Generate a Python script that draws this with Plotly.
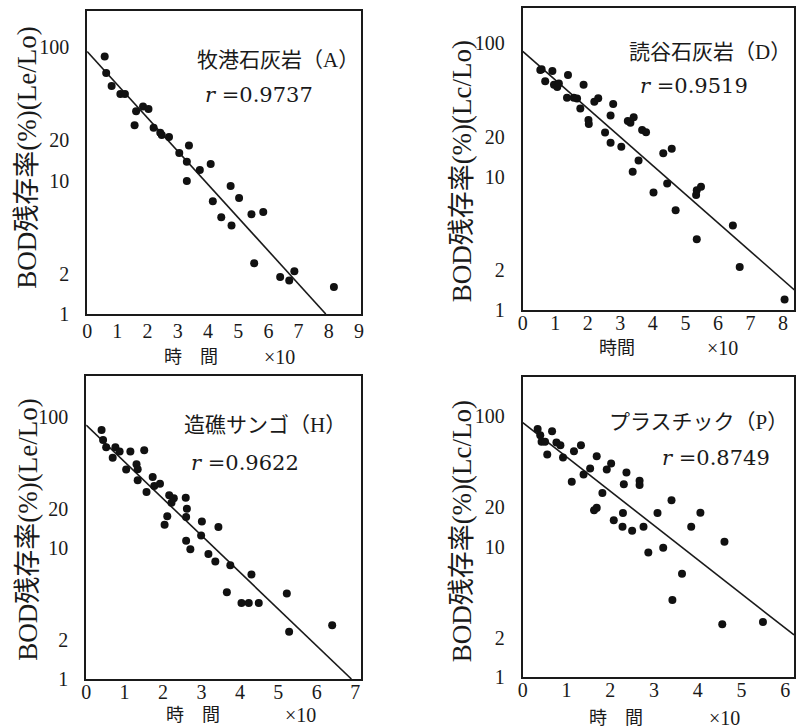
import plotly.graph_objects as go

REF_W, REF_H = 799, 728
W = 799
H = 739  # the photograph is squeezed vertically by ~1.5 %, so draw a little taller

# ---------------- data ----------------
# Panel A: 牧港石灰岩(A)
a_x = [0.58, 0.63, 0.81, 1.10, 1.25, 1.62, 1.57, 1.85, 2.03, 2.20, 2.42, 2.47, 2.71,
       3.05, 3.37, 3.30, 3.30, 3.73, 4.09, 4.16, 4.44, 4.75, 4.78, 5.03, 5.44, 5.83,
       5.53, 6.39, 6.69, 6.86, 8.17]
a_y = [85, 64, 51, 44.5, 44.5, 33, 26, 35.8, 34.4, 24.9, 22.8, 21.9, 21.2,
       16.1, 18.3, 13.8, 9.9, 12.0, 13.3, 7.0, 5.3, 9.1, 4.6, 7.4, 5.6, 5.8,
       2.4, 1.89, 1.78, 2.09, 1.59]
a_line_x = [0, 7.9]
a_line_y = [92.7, 1.0]

# Panel B: 読谷石灰岩(D)
b_x = [0.54, 0.58, 0.69, 0.91, 0.96, 1.06, 1.11, 1.39, 1.36, 1.57, 1.67, 1.77, 1.87,
       2.02, 2.03, 2.20, 2.32, 2.53, 2.70, 2.70, 2.78, 3.03, 3.23, 3.31, 3.41, 3.38,
       3.56, 3.67, 3.79, 4.02, 4.32, 4.58, 4.44, 4.70, 5.33, 5.35, 5.48, 5.35, 6.46,
       6.67, 8.05]
b_y = [63, 64, 52, 62, 49, 47, 50, 58, 39, 39, 38.5, 32.4, 49,
       26.6, 24.8, 36.5, 38.8, 21.4, 18, 28.7, 35, 16.8, 26.2, 25.4, 27.9, 10.9,
       13.2, 22.4, 21.5, 7.6, 15, 16.2, 8.9, 5.6, 7.3, 7.9, 8.4, 3.4, 4.3,
       2.1, 1.2]
b_line_x = [0, 8.4]
b_line_y = [87, 1.38]

# Panel C: 造礁サンゴ(H)
c_x = [0.40, 0.44, 0.52, 0.69, 0.76, 0.87, 1.04, 1.15, 1.31, 1.34, 1.34, 1.51, 1.57,
       1.73, 1.77, 1.92, 2.04, 2.11, 2.16, 2.22, 2.28, 2.59, 2.62, 2.60, 2.60, 2.71,
       3.01, 2.99, 3.18, 3.36, 3.44, 3.75, 3.66, 4.04, 4.23, 4.30, 4.49, 5.22, 5.28,
       6.40]
c_y = [80, 67, 59, 49, 59, 54.7, 39.8, 54.7, 43.7, 40, 33, 56, 26.8,
       35, 29.8, 31, 15.1, 17.5, 25.4, 22.2, 24, 24.3, 20, 17.3, 11.4, 9.8,
       16, 12.5, 9.0, 7.9, 14.5, 7.4, 4.6, 3.8, 3.8, 6.3, 3.8, 4.5, 2.3,
       2.57]
c_line_x = [0, 6.9]
c_line_y = [87, 1.0]

# Panel D: プラスチック(P)
d_x = [0.34, 0.40, 0.43, 0.51, 0.56, 0.67, 0.77, 0.86, 0.92, 1.12, 1.17, 1.33, 1.39,
       1.54, 1.69, 1.63, 1.69, 1.82, 1.92, 2.02, 2.08, 2.29, 2.31, 2.28, 2.37, 2.50,
       2.67, 2.67, 2.76, 2.87, 3.08, 3.21, 3.40, 3.42, 3.64, 3.85, 4.06, 4.61, 4.56,
       5.49]
d_y = [79.6, 71.5, 63.5, 63.5, 50.8, 76.7, 62.8, 59.9, 48.2, 31.4, 53.9, 59.9, 35.7,
       39.6, 49.3, 19, 19.8, 25.8, 39, 43.4, 15.9, 18.1, 30.1, 14.2, 37, 13.2,
       31.9, 29.6, 14.2, 9.0, 18.1, 9.8, 22.7, 3.9, 6.2, 14.2, 18.2, 10.9, 2.54,
       2.64]
d_line_x = [0, 6.2]
d_line_y = [89, 2.1]

titles = ["牧港石灰岩（A）", "読谷石灰岩（D）", "造礁サンゴ（H）", "プラスチック（P）"]
r_texts = ["<i>r</i> =0.9737", "<i>r</i> =0.9519", "<i>r</i> =0.9622", "<i>r</i> =0.8749"]
y_titles = ["BOD残存率(%)(Le/Lo)", "BOD残存率(%)(Lc/Lo)",
            "BOD残存率(%)(Le/Lo)", "BOD残存率(%)(Lc/Lo)"]
x_title_words = ["時　間", "時間", "時　間", "時　間"]
x_unit = "×10"
y_tick_vals = [1, 2, 10, 20, 100]
y_tick_text = ["1", "2", "10", "20", "100"]
x_tick_max = [9, 8, 7, 6]

# ---------------- layout geometry (reference pixels) ----------------
boxes = [  # left, right, top, bottom
    (83, 360, 11, 314),
    (523, 797, 8, 310),
    (82, 360, 376, 679),
    (523, 797, 377, 677),
]
x_ranges = [9.08, 8.34, 7.16, 6.2]
y_tops = [2.27, 2.265, 2.315, 2.30]
x_standoff = [-2, -6, -6, -6]

SERIF = "Liberation Serif, Times New Roman, Noto Sans CJK JP, serif"
MIX = "Liberation Serif, Noto Sans CJK JP, serif"

def px(x):
    return x / REF_W

def py(y):
    return 1 - y / REF_H

fig = go.Figure()

xs = [a_x, b_x, c_x, d_x]
ys = [a_y, b_y, c_y, d_y]
lxs = [a_line_x, b_line_x, c_line_x, d_line_x]
lys = [a_line_y, b_line_y, c_line_y, d_line_y]

layout = dict(
    width=W, height=H, margin=dict(l=0, r=0, t=0, b=0),
    paper_bgcolor="white", plot_bgcolor="white", showlegend=False,
    font=dict(family=SERIF, color="#1a1a1a"),
)

annotations = []
for i in range(4):
    n = "" if i == 0 else str(i + 1)
    L, R, T, B = boxes[i]
    fig.add_trace(go.Scatter(
        x=lxs[i], y=lys[i], mode="lines", xaxis="x" + n, yaxis="y" + n,
        line=dict(color="#1a1a1a", width=1.6), hoverinfo="skip"))
    fig.add_trace(go.Scatter(
        x=xs[i], y=ys[i], mode="markers", xaxis="x" + n, yaxis="y" + n,
        marker=dict(color="#111111", size=8), hoverinfo="skip"))
    layout["xaxis" + n] = dict(
        domain=[px(L), px(R)], range=[0, x_ranges[i]], anchor="y" + n,
        tickvals=list(range(0, x_tick_max[i] + 1)), ticks="", showgrid=False,
        zeroline=False, showline=True, mirror=True, linecolor="#1a1a1a", linewidth=2,
        tickfont=dict(size=20, family=SERIF), ticklabelstandoff=x_standoff[i])
    layout["yaxis" + n] = dict(
        domain=[py(B), py(T)], type="log", range=[0, y_tops[i]], anchor="x" + n,
        tickvals=y_tick_vals, ticktext=y_tick_text, ticks="", showgrid=False,
        zeroline=False, showline=True, mirror=True, linecolor="#1a1a1a", linewidth=2,
        tickfont=dict(size=20, family=SERIF), ticklabelstandoff=12)

# text annotations (reference pixel centres)
title_pos = [(276, 60), (712, 52), (263, 425), (701, 422)]
r_pos = [(257, 95), (696, 86), (242, 463), (718, 458)]
ytitle_pos = [(22, 158), (462, 171), (23, 530), (462, 531)]
xword_pos = [(188, 357), (618, 348), (190, 715), (617, 718)]
xunit_pos = [(277, 357), (725, 348), (298, 715), (727, 718)]

for i in range(4):
    annotations.append(dict(
        text=titles[i], x=px(title_pos[i][0]), y=py(title_pos[i][1]),
        xref="paper", yref="paper", xanchor="center", yanchor="middle",
        showarrow=False, font=dict(size=21, family=MIX, color="#1a1a1a")))
    annotations.append(dict(
        text=r_texts[i], x=px(r_pos[i][0]), y=py(r_pos[i][1]),
        xref="paper", yref="paper", xanchor="center", yanchor="middle",
        showarrow=False, font=dict(size=21, family="DejaVu Serif, serif", color="#1a1a1a")))
    annotations.append(dict(
        text=y_titles[i], x=px(ytitle_pos[i][0]), y=py(ytitle_pos[i][1]),
        xref="paper", yref="paper", xanchor="center", yanchor="middle",
        textangle=-90, showarrow=False,
        font=dict(size=27, family=MIX, color="#1a1a1a")))
    annotations.append(dict(
        text=x_title_words[i], x=px(xword_pos[i][0]), y=py(xword_pos[i][1]),
        xref="paper", yref="paper", xanchor="center", yanchor="middle",
        showarrow=False, font=dict(size=18, family=MIX, color="#1a1a1a")))
    annotations.append(dict(
        text=x_unit, x=px(xunit_pos[i][0]), y=py(xunit_pos[i][1]),
        xref="paper", yref="paper", xanchor="center", yanchor="middle",
        showarrow=False, font=dict(size=20, family=SERIF, color="#1a1a1a")))

layout["annotations"] = annotations
fig.update_layout(**layout)
fig.write_html(
    "out.html",
    config={"displayModeBar": False},
    post_script=(
        "var b=document.body.style;b.margin='0';b.padding='0';b.overflow='hidden';"
        "document.documentElement.style.overflow='hidden';"
    ),
)
